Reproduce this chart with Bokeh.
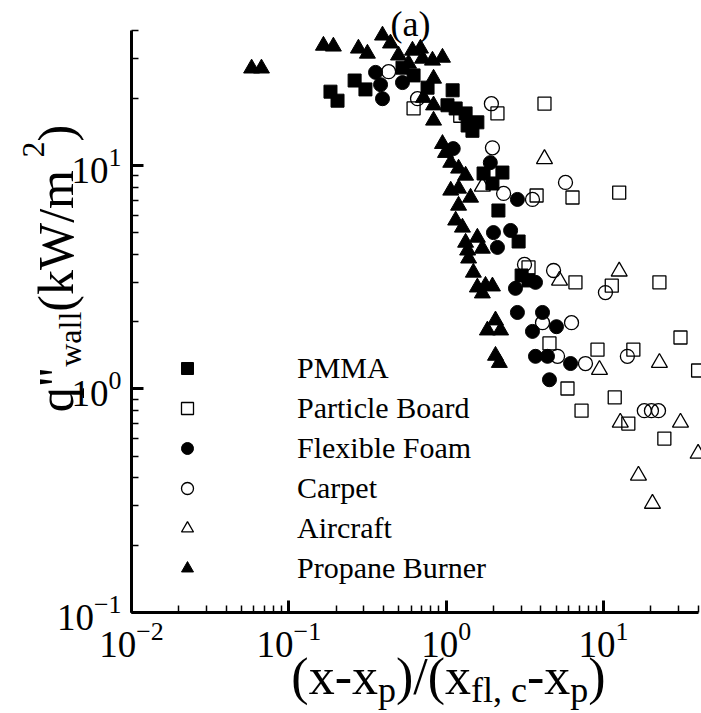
import math
from bokeh.plotting import figure
from bokeh.models import Range1d, Label, Legend, LegendItem, LogTicker
from bokeh.embed import file_html
from bokeh.resources import INLINE

FONT = "Liberation Serif"

# ---- data ----
pmma_x = [0.184, 0.204, 0.262, 0.307, 0.528, 0.621, 0.762, 1.10, 1.02, 1.15, 1.33, 1.37, 1.58, 1.47,
          1.73, 2.28, 1.97, 2.15, 2.89, 3.02, 3.34]
pmma_y = [21.4, 19.5, 24.0, 21.9, 27.4, 25.3, 22.3, 21.7, 18.6, 18.0, 17.1, 15.1, 15.6, 14.3,
          9.21, 9.30, 8.31, 6.29, 4.57, 3.22, 3.06]

board_x = [0.621, 1.23, 2.12, 4.22, 3.76, 6.36, 12.6, 3.34, 6.64, 11.3, 22.7, 4.54, 9.17, 15.5,
           30.9, 40.0, 5.91, 11.8, 7.26, 14.4, 24.4]
board_y = [18.0, 16.7, 17.1, 18.9, 7.34, 7.19, 7.57, 3.50, 3.00, 2.90, 3.00, 1.60, 1.50, 1.50,
           1.70, 1.21, 1.005, 0.917, 0.80, 0.70, 0.60]

foam_x = [0.356, 0.383, 0.394, 0.528, 1.11, 1.91, 2.84, 2.00, 2.57, 2.12, 3.70, 2.76, 2.84, 4.10,
          3.54, 5.03, 3.70, 4.41, 6.18, 4.54]
foam_y = [26.1, 23.0, 19.9, 23.5, 11.9, 10.3, 7.05, 5.01, 5.12, 4.30, 3.00, 2.82, 2.20, 2.20,
          1.81, 1.90, 1.40, 1.40, 1.30, 1.10]

carpet_x = [0.431, 0.658, 1.94, 1.97, 2.32, 3.54, 5.74, 3.15, 4.82, 10.3, 4.10, 6.27, 5.11, 7.69,
            14.2, 18.2, 20.2, 22.4]
carpet_y = [26.3, 19.9, 18.9, 12.0, 7.50, 7.05, 8.40, 3.61, 3.39, 2.70, 1.98, 1.98, 1.40, 1.30,
            1.40, 0.80, 0.80, 0.80]

aircraft_x = [4.22, 1.70, 5.26, 12.6, 9.44, 22.7, 12.8, 30.9, 40.0, 16.7, 20.5]
aircraft_y = [10.7, 8.05, 3.06, 3.36, 1.22, 1.31, 0.708, 0.708, 0.514, 0.41, 0.307]

propane_x = [0.058, 0.067, 0.166, 0.192, 0.277, 0.316, 0.394, 0.443, 0.498, 0.577, 0.611, 0.687,
             0.708, 0.819, 0.948, 0.832, 0.718, 0.832, 0.832, 0.948, 0.991, 1.07, 1.20, 1.33,
             1.07, 1.20, 1.43, 1.20, 1.15, 1.27, 1.33, 1.58, 1.70, 1.37, 1.39, 1.49, 1.58, 1.78,
             1.97, 1.70, 2.06, 1.83, 2.22, 2.06, 2.18]
propane_y = [27.2, 27.2, 34.4, 34.1, 33.4, 31.7, 38.2, 35.2, 31.1, 28.6, 32.7, 33.4,
             30.1, 29.5, 30.4, 24.5, 20.1, 18.6, 15.9, 12.5, 11.4, 10.3, 9.70, 9.02,
             7.73, 7.89, 7.19, 6.62, 5.68, 5.28, 4.52, 4.76, 4.25, 4.17, 3.84, 3.32, 2.85, 2.90,
             2.88, 2.68, 2.03, 1.83, 1.83, 1.41, 1.31]

series_names = ["PMMA", "Particle Board", "Flexible Foam", "Carpet", "Aircraft", "Propane Burner"]
# extents of the drawn axes
x_lo, x_hi = 0.01, 40.0
y_lo, y_hi = 0.1, 40.2
# full-canvas ranges (the frame covers the whole canvas; the axes sit at fixed locations)
x_view = (0.001469, 42.03)
y_view = (0.03532, 54.74)

p = figure(width=701, height=713, x_axis_type="log", y_axis_type="log",
           x_range=Range1d(*x_view), y_range=Range1d(*y_view),
           output_backend="svg", toolbar_location=None, title=None,
           min_border_left=0, min_border_right=0, min_border_top=0, min_border_bottom=0)
p.outline_line_color = None
p.grid.visible = False
p.background_fill_color = "white"
p.border_fill_color = "white"

p.xaxis[0].fixed_location = y_lo
p.xaxis[0].bounds = (x_lo, x_hi)
p.yaxis[0].fixed_location = x_lo
p.yaxis[0].bounds = (y_lo, y_hi)

for ax in (p.xaxis[0], p.yaxis[0]):
    ax.ticker = LogTicker(num_minor_ticks=10)
    ax.axis_line_width = 3
    ax.axis_line_color = "black"
    ax.major_tick_in = 12
    ax.major_tick_out = 0
    ax.major_tick_line_width = 3
    ax.minor_tick_in = 7
    ax.minor_tick_out = 0
    ax.minor_tick_line_width = 1.5
    ax.major_label_text_font = FONT
    ax.major_label_text_font_size = "37px"
    ax.major_label_text_color = "black"
p.xaxis[0].major_label_standoff = 10
p.yaxis[0].major_label_standoff = 10

r_pmma = p.scatter(pmma_x, pmma_y, marker="square", size=13, fill_color="black", line_color="black")
r_board = p.scatter(board_x, board_y, marker="square", size=13, fill_color=None, line_color="black", line_width=1.3)
r_foam = p.scatter(foam_x, foam_y, marker="circle", size=14, fill_color="black", line_color="black")
r_carpet = p.scatter(carpet_x, carpet_y, marker="circle", size=14, fill_color=None, line_color="black", line_width=1.3)
r_air = p.scatter(aircraft_x, aircraft_y, marker="triangle", size=16, fill_color=None, line_color="black", line_width=1.3)
r_prop = p.scatter(propane_x, propane_y, marker="triangle", size=16, fill_color="black", line_color="black")

legend = Legend(items=[LegendItem(label=n, renderers=[r]) for n, r in
                       zip(series_names, [r_pmma, r_board, r_foam, r_carpet, r_air, r_prop])],
                location=(172, 128))
legend.glyph_width = 30
legend.glyph_height = 30
legend.label_height = 30
legend.label_standoff = 95
legend.spacing = 6
legend.padding = 0
legend.margin = 0
legend.border_line_color = None
legend.background_fill_alpha = 0
legend.label_text_font = FONT
legend.label_text_font_size = "30px"
legend.label_text_color = "black"
p.add_layout(legend)

# ---- composed axis titles with sub/superscripts ----
W = {'(': 0.333, ')': 0.333, 'x': 0.5, '-': 0.333, '/': 0.278, 'p': 0.5, 'f': 0.333, 'l': 0.278,
     ',': 0.25, ' ': 0.25, 'c': 0.444, 'q': 0.5, '"': 0.408, 'w': 0.722, 'a': 0.444, 'k': 0.5,
     'W': 0.944, 'm': 0.778, '2': 0.5}


def tw(s, size):
    return sum(W[c] for c in s) * size


S = 52
s = 36
xl_parts = [("(x-x", S, 0), ("p", s, -13), (")/(x", S, 0), ("fl, c", s, -13), ("-x", S, 0),
            ("p", s, -13), (")", S, 0)]
total = sum(tw(t, fs) for t, fs, _ in xl_parts)
cx = 448 - total / 2
for t, fs, dy in xl_parts:
    p.add_layout(Label(x=cx, y=37 + dy, x_units="screen", y_units="screen", text=t,
                       text_font=FONT, text_font_size=f"{fs}px", text_color="black",
                       text_align="left", text_baseline="alphabetic"))
    cx += tw(t, fs)

SY = 50
sy = 32
yl_parts = [("q", SY, 0), ('"', SY, 0), ("wall", sy, 14), (" (kW/m", SY, 0), ("2", sy, -22), (")", SY, 0)]
total = sum(tw(t, fs) for t, fs, _ in yl_parts)
cy = 445 - total / 2
for t, fs, dx in yl_parts:
    p.add_layout(Label(x=55 + dx, y=cy, x_units="screen", y_units="screen", text=t,
                       angle=math.pi / 2, text_font=FONT, text_font_size=f"{fs}px",
                       text_color="black", text_align="left", text_baseline="alphabetic"))
    cy += tw(t, fs)

p.add_layout(Label(x=410, y=690, x_units="screen", y_units="screen", text="(a)",
                   text_font=FONT, text_font_size="36px", text_color="black",
                   text_align="center", text_baseline="alphabetic"))

open("out.html", "w").write(file_html(p, INLINE))
